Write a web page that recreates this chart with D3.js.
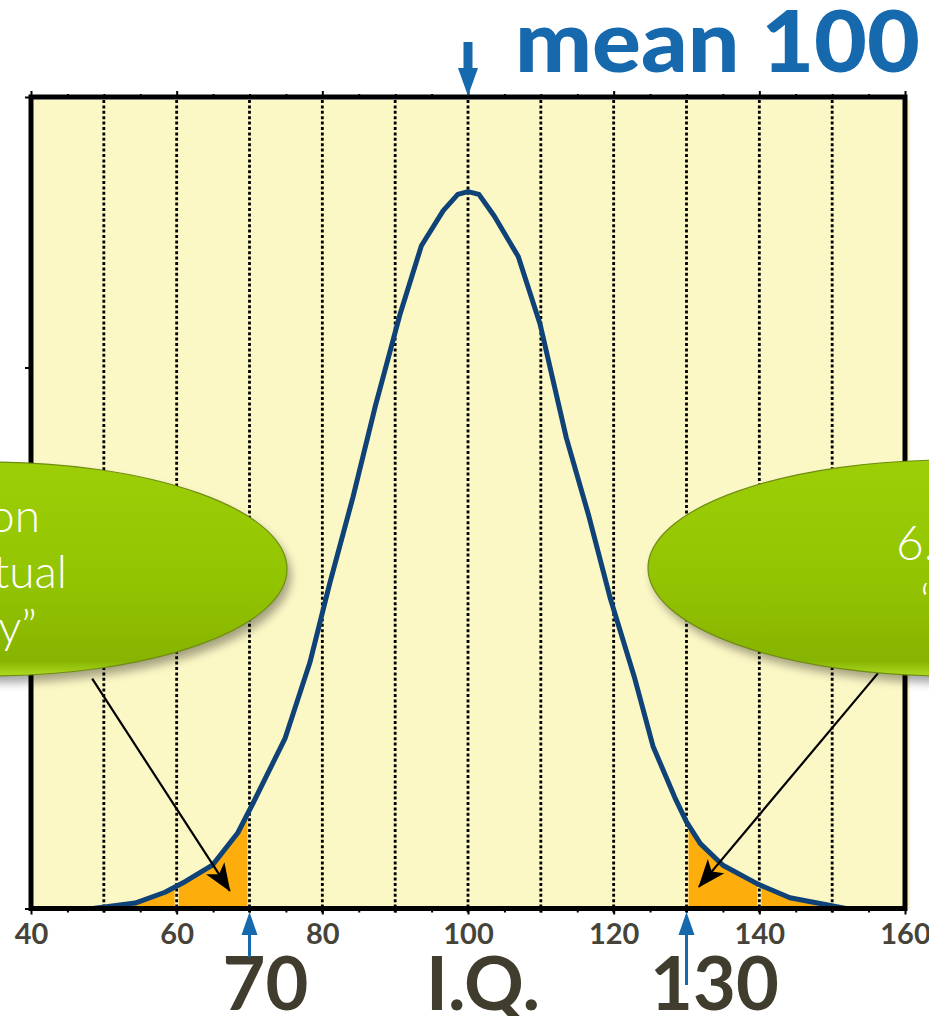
<!DOCTYPE html>
<html>
<head>
<meta charset="utf-8">
<script src="https://cdn.jsdelivr.net/npm/d3@7"></script>
<style>
  html, body { margin: 0; padding: 0; background: #ffffff; }
  svg { display: block; }
</style>
</head>
<body>
<div id="chart"></div>
<script>
// IQ scores along the bell curve and the density drawn at each vertex
const iqValues = [48.5, 54.3, 58.4, 61.2, 64.9, 68.4, 70.5, 74.9, 78.3, 81.0,
                  84.2, 87.3, 90.7, 93.6, 96.6, 98.6, 100.0, 101.5, 103.6, 106.9,
                  109.9, 113.5, 116.6, 119.5, 122.9, 125.4, 128.4, 130.0, 131.9, 135.0,
                  139.8, 144.2, 151.9];
const density = [0.0000, 0.0002, 0.0006, 0.0010, 0.0016, 0.0028, 0.0039, 0.0063, 0.0091, 0.0120,
                 0.0152, 0.0186, 0.0220, 0.0245, 0.0258, 0.0264, 0.0265, 0.0264, 0.0256, 0.0241,
                 0.0216, 0.0174, 0.0145, 0.0115, 0.0085, 0.0060, 0.0041, 0.0032, 0.0024, 0.0016,
                 0.0009, 0.0004, 0.0000];

// axis ticks
const xTickLabels = [40, 60, 80, 100, 120, 140, 160];
const xMinorTicks = d3.range(40, 161, 5);
const gridValues = [50, 60, 70, 80, 90, 100, 110, 120, 130, 140, 150];
const yTicks = [0, 0.01, 0.02, 0.03];

// shaded tails and marked scores
const lowTail = [54, 70];
const highTail = [130, 148];
const meanIQ = 100;
const cutoffs = [70, 130];

// callout bubbles
const leftBubbleLines = ["2.2% of population", "\u201cintellectual", "disability\u201d"];
const rightBubbleLines = ["6.7% are", "\u201cgifted\u201d"];

const W = 929, H = 1016;
const svg = d3.select("#chart").append("svg").attr("width", W).attr("height", H);

const x = d3.scaleLinear().domain([40, 160]).range([31, 905]);
const y = d3.scaleLinear().domain([0, 0.03]).range([908.5, 97]);

const points = iqValues.map((v, i) => ({ iq: v, d: density[i] }));

const defs = svg.append("defs");
const grad = defs.append("linearGradient").attr("id", "bubbleFill")
  .attr("x1", 0).attr("y1", 0).attr("x2", 0).attr("y2", 1);
grad.append("stop").attr("offset", "0%").attr("stop-color", "#9ccf07");
grad.append("stop").attr("offset", "55%").attr("stop-color", "#93c402");
grad.append("stop").attr("offset", "93%").attr("stop-color", "#87b400");
grad.append("stop").attr("offset", "100%").attr("stop-color", "#aedb22");
const shadow = defs.append("filter").attr("id", "bubbleShadow")
  .attr("x", "-20%").attr("y", "-30%").attr("width", "140%").attr("height", "170%");
shadow.append("feGaussianBlur").attr("stdDeviation", 5);

defs.append("marker").attr("id", "blackHead")
  .attr("viewBox", "0 0 28 22").attr("refX", 27).attr("refY", 11)
  .attr("markerWidth", 28).attr("markerHeight", 22)
  .attr("markerUnits", "userSpaceOnUse").attr("orient", "auto")
  .append("path").attr("d", "M0,0 L28,11 L0,22 L7,11 Z").attr("fill", "#000");

// plot background
const [x0, x1] = x.range();
const [yBottom, yTop] = y.range();
svg.append("rect").attr("x", x0 + 3).attr("y", yTop + 3)
  .attr("width", x1 - x0 + 2).attr("height", yBottom - yTop - 3)
  .attr("fill", "#fcf8c6");

// orange tails under the curve
function tailPoints(range) {
  const [a, b] = range;
  const interp = v => {
    for (let i = 0; i < points.length - 1; i++) {
      const p = points[i], q = points[i + 1];
      if (v >= p.iq && v <= q.iq) {
        const t = (v - p.iq) / (q.iq - p.iq);
        return { iq: v, d: p.d + t * (q.d - p.d) };
      }
    }
    return { iq: v, d: 0 };
  };
  return [interp(a), ...points.filter(p => p.iq > a && p.iq < b), interp(b)];
}
const area = d3.area().x(d => x(d.iq)).y0(y(0)).y1(d => y(d.d));
[lowTail, highTail].forEach(r => {
  svg.append("path").datum(tailPoints(r)).attr("d", area).attr("fill", "#fdad0c");
});

// dotted vertical grid
const grid = svg.append("g");
grid.selectAll("line.bg").data(gridValues).join("line").attr("class", "bg")
  .attr("x1", d => x(d)).attr("x2", d => x(d))
  .attr("y1", yTop + 3).attr("y2", yBottom)
  .attr("stroke", "#fcf8c6").attr("stroke-width", 4);
grid.selectAll("line.dot").data(gridValues).join("line").attr("class", "dot")
  .attr("x1", d => x(d)).attr("x2", d => x(d))
  .attr("y1", yTop + 3).attr("y2", yBottom + 4)
  .attr("stroke", "#000").attr("stroke-width", 2.8)
  .attr("stroke-dasharray", "3,2.4");

// the curve
const line = d3.line().x(d => x(d.iq)).y(d => y(d.d));
svg.append("path").datum(points).attr("d", line)
  .attr("fill", "none").attr("stroke", "#0f4277").attr("stroke-width", 5)
  .attr("stroke-linejoin", "round");

// ticks (top and bottom, minor every 5, major every 20)
const minorOnly = xMinorTicks.filter(v => !xTickLabels.includes(v));
function tickAxis(axisGen, ty, values, size) {
  const g = svg.append("g").attr("transform", `translate(0,${ty})`)
    .call(axisGen(x).tickValues(values).tickSize(size).tickSizeOuter(0).tickFormat(""));
  g.select(".domain").remove();
  g.selectAll("line").attr("stroke", "#000").attr("stroke-width", 2);
  return g;
}
tickAxis(d3.axisTop, yTop, minorOnly, 3);
tickAxis(d3.axisTop, yTop, xTickLabels, 6);
tickAxis(d3.axisBottom, yBottom, minorOnly, 4);

const bottomAxis = svg.append("g").attr("transform", `translate(0,${yBottom})`)
  .call(d3.axisBottom(x).tickValues(xTickLabels).tickSize(6).tickPadding(8.5).tickSizeOuter(0));
bottomAxis.select(".domain").remove();
bottomAxis.selectAll("line").attr("stroke", "#000").attr("stroke-width", 2);
bottomAxis.selectAll("text")
  .attr("font-family", "Lato, 'Open Sans', sans-serif").attr("font-weight", 700)
  .attr("font-size", 29).attr("fill", "#46443a");

const leftAxis = svg.append("g").attr("transform", `translate(${x0},0)`)
  .call(d3.axisLeft(y).tickValues(yTicks).tickSize(6).tickSizeOuter(0).tickFormat(""));
leftAxis.select(".domain").remove();
leftAxis.selectAll("line").attr("stroke", "#000").attr("stroke-width", 2);

// frame
svg.append("rect").attr("x", x0).attr("y", yTop)
  .attr("width", x1 - x0).attr("height", yBottom - yTop)
  .attr("fill", "none").attr("stroke", "#000").attr("stroke-width", 5);

// mean marker
const blue = "#1769ae";
const mx = x(meanIQ);
svg.append("rect").attr("x", mx - 4.5).attr("y", 42).attr("width", 9).attr("height", 28).attr("fill", blue);
svg.append("path").attr("d", `M${mx - 10},68 L${mx + 10},68 L${mx},${yTop - 1} Z`).attr("fill", blue);
svg.append("text").attr("x", 515).attr("y", 72)
  .attr("font-family", "Lato, 'Open Sans', sans-serif").attr("font-weight", 900)
  .attr("font-size", 86).attr("fill", blue)
  .attr("textLength", 405).attr("lengthAdjust", "spacingAndGlyphs")
  .text("mean " + meanIQ);

// big labels under the axis
const darkText = "#403d2f";
const bigLabel = (tx, txt) => svg.append("text").attr("x", tx).attr("y", 1010)
  .attr("text-anchor", "middle")
  .attr("font-family", "Lato, 'Open Sans', sans-serif").attr("font-weight", 700)
  .attr("font-size", 74).attr("fill", darkText).text(txt);
bigLabel(x(cutoffs[0]) + 16, String(cutoffs[0]));
bigLabel(x(meanIQ) + 15, "I.Q.");
bigLabel(x(cutoffs[1]) + 28, String(cutoffs[1]));

// upward arrows at the cutoffs
function upArrow(cx, yEnd) {
  svg.append("rect").attr("x", cx - 1.5).attr("y", 930).attr("width", 3).attr("height", yEnd - 930).attr("fill", blue);
  svg.append("path").attr("d", `M${cx - 8},935 L${cx + 8},935 L${cx},912 Z`).attr("fill", blue);
}
upArrow(x(cutoffs[0]), 957);
upArrow(x(cutoffs[1]), 985);

// callout arrows pointing into the tails
const callouts = [
  { from: [48.4, 0.0085], to: [67.3, 0.00065] },
  { from: [156.3, 0.0087], to: [131.7, 0.0008] }
];
svg.selectAll("line.callout").data(callouts).join("line").attr("class", "callout")
  .attr("x1", d => x(d.from[0])).attr("y1", d => y(d.from[1]))
  .attr("x2", d => x(d.to[0])).attr("y2", d => y(d.to[1]))
  .attr("stroke", "#000").attr("stroke-width", 2.2)
  .attr("marker-end", "url(#blackHead)");

// green bubbles
const bubbles = [
  { cx: -12, cy: 569, rx: 299, ry: 107 },
  { cx: 950, cy: 568, rx: 302, ry: 108 }
];
bubbles.forEach(b => {
  svg.append("ellipse").attr("cx", b.cx + 4).attr("cy", b.cy + 7).attr("rx", b.rx).attr("ry", b.ry)
    .attr("fill", "#000").attr("opacity", 0.35).attr("filter", "url(#bubbleShadow)");
  svg.append("ellipse").attr("cx", b.cx).attr("cy", b.cy).attr("rx", b.rx).attr("ry", b.ry)
    .attr("fill", "url(#bubbleFill)").attr("stroke", "#6f8c12").attr("stroke-width", 1.2);
});

const bubbleFont = "Lato, 'Open Sans', sans-serif";
const leftEnds = [40, 67, 37], leftBase = [532, 588, 643];
leftBubbleLines.forEach((t, i) => {
  svg.append("text").attr("x", leftEnds[i]).attr("y", leftBase[i])
    .attr("text-anchor", "end").attr("font-family", bubbleFont).attr("font-weight", 300)
    .attr("font-size", 46).attr("fill", "#ffffff").text(t);
});
const rightStarts = [896, 920], rightBase = [560, 618];
rightBubbleLines.forEach((t, i) => {
  svg.append("text").attr("x", rightStarts[i]).attr("y", rightBase[i])
    .attr("text-anchor", "start").attr("font-family", bubbleFont).attr("font-weight", 300)
    .attr("font-size", 48).attr("fill", "#ffffff").text(t);
});
</script>
</body>
</html>
